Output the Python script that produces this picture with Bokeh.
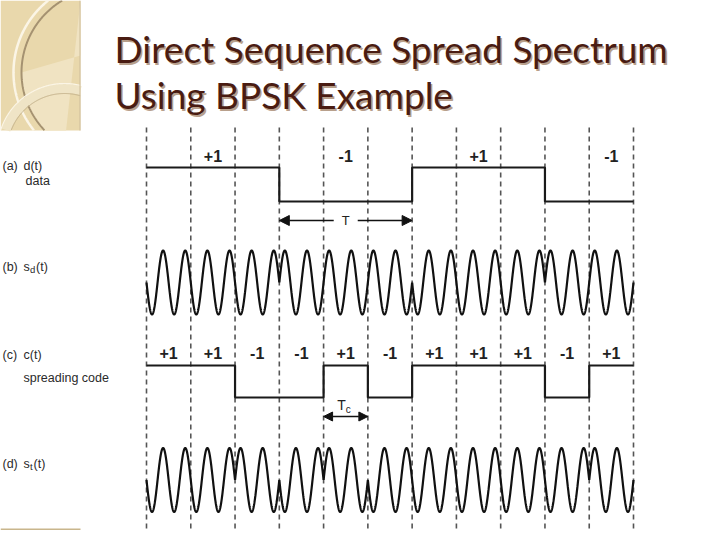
import numpy as np
from bokeh.plotting import figure
from bokeh.models import Range1d, Arrow, NormalHead
from bokeh.core.properties import value
from bokeh.embed import file_html
from bokeh.resources import INLINE

# ---------------- data ----------------
title_lines = ["Direct Sequence Spread Spectrum", "Using BPSK Example"]
data_bits = [1, -1, 1, -1]                 # d(t)
chips_per_bit = 3
code_chips = [1, 1, -1, -1, 1, -1, 1, 1, 1, -1, 1]   # c(t)
carrier_cycles_per_chip = 2
data_labels = ["+1", "-1", "+1", "-1"]
chip_labels = ["+1", "+1", "-1", "-1", "+1", "-1", "+1", "+1", "+1", "-1", "+1"]

# ---------------- layout (picture pixels) ----------------
W, H = 712, 530
X0, X11 = 146.0, 633.0
n_chips = len(code_chips)
CHIP = (X11 - X0) / n_chips
def cx(k):
    return X0 + np.asarray(k, dtype=float) * CHIP

D_HI, D_LO = 167.0, 201.0
C_HI, C_LO = 365.0, 397.0
SD_MID, ST_MID, AMP = 282.0, 479.5, 32.0
BASE_FIX = 0.38   # renderer puts "alphabetic" text this many em lower

def bl(y, size):
    return [v - BASE_FIX * size for v in y]

p = figure(width=W, height=H, x_range=Range1d(0, W), y_range=Range1d(H, 0),
           output_backend="svg", toolbar_location=None, min_border=0)
p.axis.visible = False
p.grid.visible = False
p.outline_line_color = None
p.background_fill_color = "white"
p.border_fill_color = "white"

# ---------------- slide decoration ----------------
SL, SR, STOP, SB = 0.0, 80.0, 0.0, 130.0
p.quad(left=[SL], right=[SR], top=[STOP], bottom=[SB], fill_color="#e9d8ac", line_color=None)
cxc, cyc = 105.0, 72.0
ang = np.linspace(np.deg2rad(180), np.deg2rad(242), 40)
px = list(cxc + 84 * np.cos(ang)) + [80, 80]
py = list(cyc - 84 * np.sin(ang)) + [0, 55]
p.patch(np.clip(px, SL, SR), np.clip(py, STOP, SB), fill_color="#f0e3c2", line_color=None)
ang = np.linspace(np.deg2rad(110), np.deg2rad(260), 300)
for rr, col, w in [(92, "#fbf5e6", 2.5), (84, "#a59271", 2.0)]:
    xx = cxc + rr * np.cos(ang)
    yy = cyc - rr * np.sin(ang)
    m = (xx >= SL) & (xx <= SR) & (yy >= STOP) & (yy <= SB)
    p.line(xx[m], yy[m], line_color=col, line_width=w)
ang = np.linspace(np.deg2rad(10), np.deg2rad(175), 300)
for rr, col, w in [(62, "#efe4c6", 9), (57, "#c3b18b", 1.0), (67, "#fbf5e6", 1.2)]:
    xx = 64 + rr * np.cos(ang)
    yy = 150 - rr * np.sin(ang)
    m = (xx >= SL) & (xx <= SR) & (yy >= STOP) & (yy <= SB)
    p.line(xx[m], yy[m], line_color=col, line_width=w)
p.segment(x0=[79.5], y0=[0], x1=[79.5], y1=[130], line_color="#cdbd9b", line_width=1)
p.segment(x0=[0], y0=[529], x1=[80], y1=[529], line_color="#c9b68c", line_width=2)

# ---------------- title ----------------
tx = [114, 114]
ty = bl([62, 108], 37)
TF = value("Lato")
p.text(x=[t + 1.6 for t in tx], y=[t + 1.6 for t in ty], text=title_lines,
       text_font=TF, text_font_size="37px", text_color="#b8a08c",
       text_baseline="alphabetic", text_align="left")
p.text(x=tx, y=ty, text=title_lines, text_font=TF, text_font_size="37px",
       text_color="#4a1c12", text_baseline="alphabetic", text_align="left")

# ---------------- dashed chip boundaries ----------------
kb = np.arange(n_chips + 1)
p.segment(x0=cx(kb), y0=[127] * len(kb), x1=cx(kb), y1=[541] * len(kb),
          line_color="#555555", line_width=1.6, line_dash="5 4")

# ---------------- signals ----------------
d_chip = [data_bits[k // chips_per_bit] for k in range(n_chips)]

def step_xy(levels, hi, lo):
    xs, ys = [], []
    for k, lv in enumerate(levels):
        y = hi if lv > 0 else lo
        xs += [float(cx(k)), float(cx(k + 1))]
        ys += [y, y]
    return xs, ys

xs, ys = step_xy(d_chip, D_HI, D_LO)
p.line(xs, ys, line_color="#1a1a1a", line_width=2.2)
xs, ys = step_xy(code_chips, C_HI, C_LO)
p.line(xs, ys, line_color="#1a1a1a", line_width=2.2)

t = np.linspace(0, n_chips, n_chips * 240 + 1)
idx = np.clip(np.floor(t).astype(int), 0, n_chips - 1)
carrier = -np.sin(2 * np.pi * carrier_cycles_per_chip * t)
sd = np.array(d_chip)[idx] * carrier
st = np.array(d_chip)[idx] * np.array(code_chips)[idx] * carrier
p.line(cx(t), SD_MID - AMP * sd, line_color="#111111", line_width=2.2)
p.line(cx(t), ST_MID - AMP * st, line_color="#111111", line_width=2.2)

# ---------------- value labels ----------------
LF = value("Liberation Sans")
bit_centers = cx(np.arange(len(data_bits)) * chips_per_bit + chips_per_bit / 2)
p.text(x=bit_centers, y=bl([162] * len(data_bits), 16), text=data_labels, text_font=LF,
       text_font_size="16px", text_font_style="bold", text_color="#222222",
       text_align="center", text_baseline="alphabetic")
p.text(x=cx(np.arange(n_chips) + 0.5), y=bl([359] * n_chips, 16), text=chip_labels,
       text_font=LF, text_font_size="16px", text_font_style="bold", text_color="#222222",
       text_align="center", text_baseline="alphabetic")

# ---------------- T and Tc arrows ----------------
tmid = float(cx(chips_per_bit * 1.5))
p.add_layout(Arrow(end=NormalHead(size=10, fill_color="#111", line_color="#111"),
                   x_start=tmid - 12, y_start=220, x_end=float(cx(3)), y_end=220,
                   line_color="#111", line_width=1.6))
p.add_layout(Arrow(end=NormalHead(size=10, fill_color="#111", line_color="#111"),
                   x_start=tmid + 12, y_start=220, x_end=float(cx(6)), y_end=220,
                   line_color="#111", line_width=1.6))
p.text(x=[tmid], y=[220], text=["T"], text_font=LF, text_font_size="13px",
       text_color="#222", text_align="center", text_baseline="middle")
p.add_layout(Arrow(start=NormalHead(size=9, fill_color="#111", line_color="#111"),
                   end=NormalHead(size=9, fill_color="#111", line_color="#111"),
                   x_start=float(cx(4)), y_start=416, x_end=float(cx(5)), y_end=416,
                   line_color="#111", line_width=1.6))
tcx = float(cx(4.5))
p.text(x=[tcx], y=bl([410], 14), text=["T"], text_font=LF, text_font_size="14px",
       text_color="#222", text_align="right", text_baseline="alphabetic")
p.text(x=[tcx], y=bl([413], 10), text=["c"], text_font=LF, text_font_size="10px",
       text_color="#222", text_align="left", text_baseline="alphabetic")

# ---------------- row labels ----------------
lab = dict(text_font=LF, text_font_size="12.5px", text_color="#2a2a2a", text_baseline="middle",
           text_align="left")
p.text(x=[2, 2, 2, 2], y=[165, 266, 354, 463], text=["(a)", "(b)", "(c)", "(d)"], **lab)
p.text(x=[23, 25, 23], y=[165, 180, 354], text=["d(t)", "data", "c(t)"], **lab)
p.text(x=[23], y=[377], text=["spreading code"], **lab)
p.text(x=[23, 23], y=[266, 463], text=["s", "s"], **lab)
p.text(x=[29.5, 29.5], y=[269, 466], text=["d", "t"], text_font=LF, text_font_size="9.5px",
       text_color="#2a2a2a", text_baseline="middle", text_align="left")
p.text(x=[35.5, 33], y=[266, 463], text=["(t)", "(t)"], **lab)

open("out.html", "w").write(file_html(p, INLINE))
